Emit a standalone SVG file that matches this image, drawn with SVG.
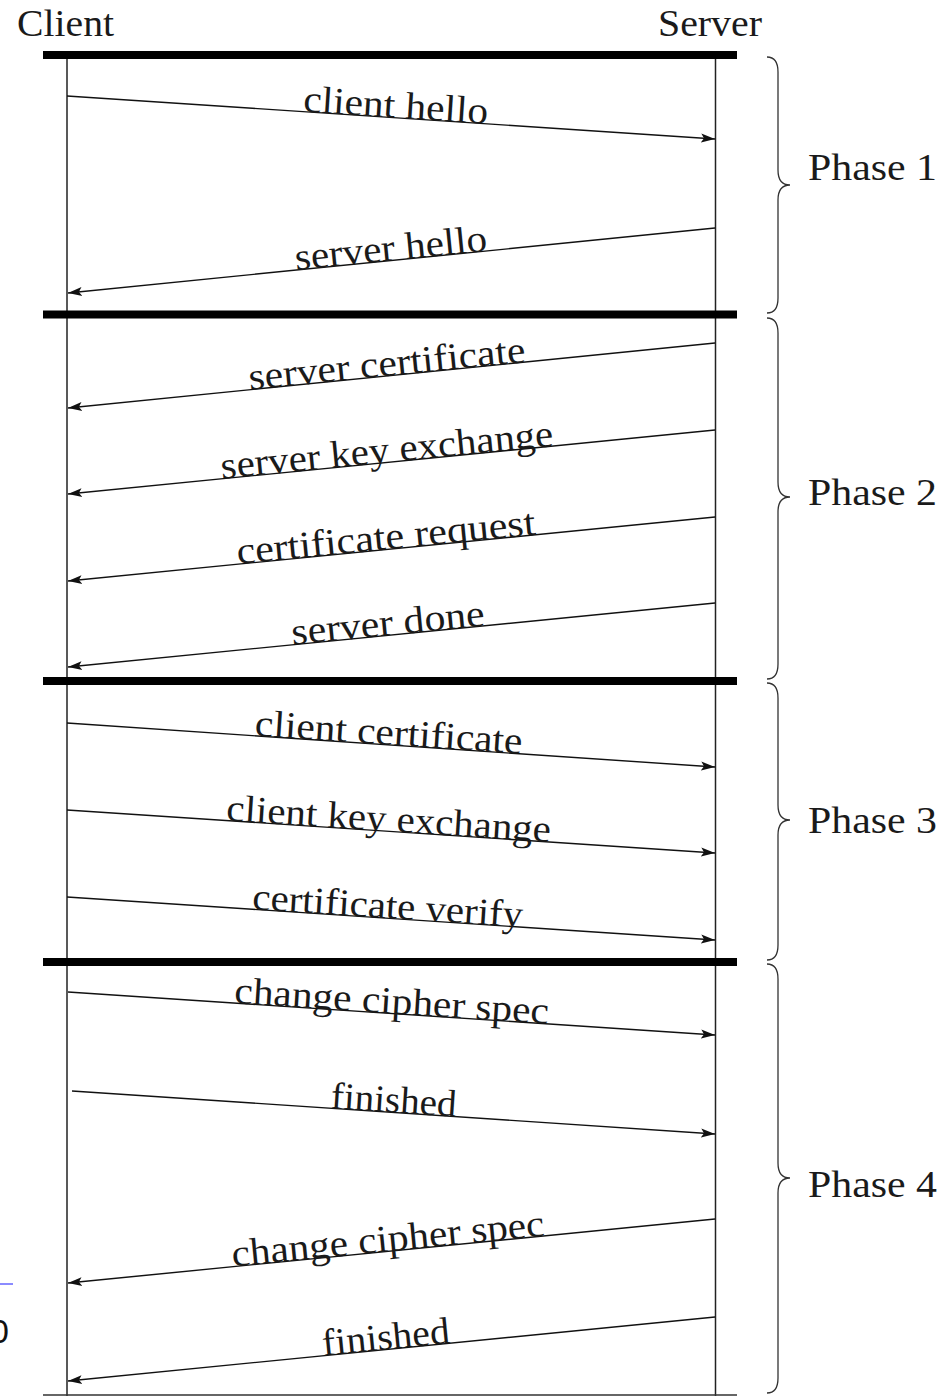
<svg xmlns="http://www.w3.org/2000/svg" width="951" height="1396" viewBox="0 0 951 1396">
<style>
  .t { font-family: "Liberation Serif", "Times New Roman", "DejaVu Serif", serif; font-size: 38px; fill: #1a1a1a; }
  .lbl { font-family: "Liberation Serif", "Times New Roman", "DejaVu Serif", serif; font-size: 38px; fill: #1a1a1a; text-anchor: middle; }
  .bar { fill: #000; }
  .life { stroke: #222; stroke-width: 1.5; fill: none; }
  .msg { stroke: #111; stroke-width: 1.4; fill: none; }
  .r { marker-end: url(#ah); }
  .brace { stroke: #333; stroke-width: 1.3; fill: none; }
</style>
<defs>
  <marker id="ah" markerUnits="userSpaceOnUse" markerWidth="16" markerHeight="12" refX="14" refY="6" orient="auto">
    <path d="M14,6 L0,1.5 L3,6 L0,10.5 Z" fill="#111"/>
  </marker>
</defs>
<rect width="951" height="1396" fill="#fff"/>

<g id="client">
  <text class="t" x="17" y="36" textLength="97" lengthAdjust="spacingAndGlyphs">Client</text>
  <line class="life" x1="67" y1="58" x2="67" y2="1396"/>
</g>
<g id="server">
  <text class="t" x="658" y="36" textLength="104" lengthAdjust="spacingAndGlyphs">Server</text>
  <line class="life" x1="715.5" y1="58" x2="715.5" y2="1396"/>
</g>

<g id="separators">
  <rect class="bar" x="43" y="51" width="694" height="8"/>
  <rect class="bar" x="43" y="310.5" width="694" height="8"/>
  <rect class="bar" x="43" y="677" width="694" height="8"/>
  <rect class="bar" x="43" y="958" width="694" height="8"/>
  <line x1="43" y1="1395" x2="737" y2="1395" stroke="#333" stroke-width="1.5"/>
</g>

<g id="connectors">
  <line class="msg r" x1="67" y1="96" x2="715" y2="139"/>
  <line class="msg r" x1="715" y1="228" x2="68" y2="293"/>
  <line class="msg r" x1="715" y1="343" x2="68" y2="408"/>
  <line class="msg r" x1="715" y1="430" x2="68" y2="494"/>
  <line class="msg r" x1="715" y1="517" x2="68" y2="581"/>
  <line class="msg r" x1="715" y1="603" x2="68" y2="667"/>
  <line class="msg r" x1="67" y1="723" x2="715" y2="767"/>
  <line class="msg r" x1="67" y1="810" x2="715" y2="853"/>
  <line class="msg r" x1="67" y1="897" x2="715" y2="940"/>
  <line class="msg r" x1="68" y1="992" x2="715" y2="1035"/>
  <line class="msg r" x1="72" y1="1091" x2="715" y2="1134"/>
  <line class="msg r" x1="715" y1="1219" x2="68" y2="1283"/>
  <line class="msg r" x1="715" y1="1317" x2="68" y2="1381"/>
</g>

<g id="labels">
  <text class="lbl" transform="translate(395,117.7) rotate(3.79)" y="0" textLength="185" lengthAdjust="spacingAndGlyphs">client hello</text>
  <text class="lbl" transform="translate(392,260.4) rotate(-5.72)" y="0" textLength="193" lengthAdjust="spacingAndGlyphs">server hello</text>
  <text class="lbl" transform="translate(388,375.9) rotate(-5.72)" y="0" textLength="278" lengthAdjust="spacingAndGlyphs">server certificate</text>
  <text class="lbl" transform="translate(388,462.3) rotate(-5.63)" y="0" textLength="334" lengthAdjust="spacingAndGlyphs">server key exchange</text>
  <text class="lbl" transform="translate(387,549.4) rotate(-5.63)" y="0" textLength="300" lengthAdjust="spacingAndGlyphs">certificate request</text>
  <text class="lbl" transform="translate(389,635.2) rotate(-5.63)" y="0" textLength="194" lengthAdjust="spacingAndGlyphs">server done</text>
  <text class="lbl" transform="translate(388,744.8) rotate(3.88)" y="0" textLength="268" lengthAdjust="spacingAndGlyphs">client certificate</text>
  <text class="lbl" transform="translate(388,831.3) rotate(3.79)" y="0" textLength="325" lengthAdjust="spacingAndGlyphs">client key exchange</text>
  <text class="lbl" transform="translate(387,918.2) rotate(3.79)" y="0" textLength="271" lengthAdjust="spacingAndGlyphs">certificate verify</text>
  <text class="lbl" transform="translate(391,1013.4) rotate(3.8)" y="0" textLength="315" lengthAdjust="spacingAndGlyphs">change cipher spec</text>
  <text class="lbl" transform="translate(393,1112.4) rotate(3.82)" y="0" textLength="126" lengthAdjust="spacingAndGlyphs">finished</text>
  <text class="lbl" transform="translate(389,1251.2) rotate(-5.63)" y="0" textLength="314" lengthAdjust="spacingAndGlyphs">change cipher spec</text>
  <text class="lbl" transform="translate(387,1349.4) rotate(-5.63)" y="0" textLength="128" lengthAdjust="spacingAndGlyphs">finished</text>
</g>

<g id="phase1">
  <path class="brace" d="M767,57 C774,57 778,62 778,72 L778,170 C778,180 782,185 790,185 C782,185 778,190 778,200 L778,298 C778,308 774,313 767,313"/>
  <text class="t" x="808" y="180" textLength="129" lengthAdjust="spacingAndGlyphs">Phase 1</text>
</g>
<g id="phase2">
  <path class="brace" d="M767,318 C774,318 778,323 778,333 L778,482 C778,492 782,497 790,497 C782,497 778,502 778,512 L778,664 C778,674 774,679 767,679"/>
  <text class="t" x="808" y="505" textLength="129" lengthAdjust="spacingAndGlyphs">Phase 2</text>
</g>
<g id="phase3">
  <path class="brace" d="M767,683 C774,683 778,688 778,698 L778,805 C778,815 782,820 790,820 C782,820 778,825 778,835 L778,945 C778,955 774,960 767,960"/>
  <text class="t" x="808" y="833" textLength="129" lengthAdjust="spacingAndGlyphs">Phase 3</text>
</g>
<g id="phase4">
  <path class="brace" d="M767,964 C774,964 778,969 778,979 L778,1163 C778,1173 782,1178 790,1178 C782,1178 778,1183 778,1193 L778,1378 C778,1388 774,1393 767,1393"/>
  <text class="t" x="808" y="1197" textLength="129" lengthAdjust="spacingAndGlyphs">Phase 4</text>
</g>

<g id="edge-artifacts">
  <line x1="0" y1="1284" x2="13" y2="1284" stroke="#6464ff" stroke-width="1.5"/>
  <text x="-10" y="1343" style="font-family: 'Liberation Sans', Arial, sans-serif; font-size: 34px; fill: #111;">0</text>
</g>
</svg>
